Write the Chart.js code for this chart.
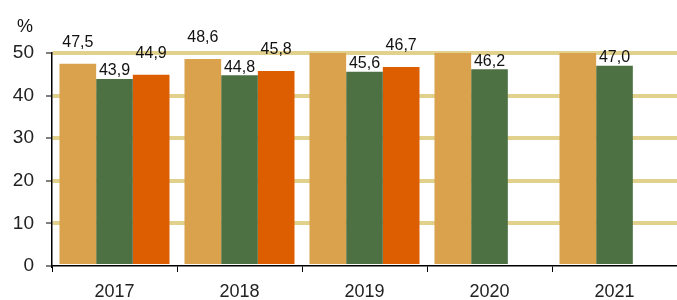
<!DOCTYPE html>
<html>
<head>
<meta charset="utf-8">
<script src="https://cdn.jsdelivr.net/npm/chart.js@4"></script>
<style>
    html, body { margin: 0; padding: 0; background: #fff; }
    #wrap { width: 677px; height: 300px; position: relative; }
</style>
</head>
<body>
<div id="wrap"><canvas id="chart"></canvas></div>
<script>
const years = ['2017', '2018', '2019', '2020', '2021'];
// tan bars for 2019-2021 run past the 50 line and are cut off there
const seriesA = [47.5, 48.6, 50.8, 51.2, 51.6];
const seriesB = [43.9, 44.8, 45.6, 46.2, 47.0];
const seriesC = [44.9, 45.8, 46.7, null, null];
const yTicks = [0, 10, 20, 30, 40, 50];

const FONT = "'Liberation Sans', Arial, sans-serif";

// draws value labels above the bars, with a comma as decimal mark
const valueLabels = {
    id: 'valueLabels',
    afterDatasetsDraw(chart) {
        const ctx = chart.ctx;
        const yMax = chart.scales.y.max;
        ctx.save();
        ctx.font = '16px ' + FONT;
        ctx.fillStyle = '#111';
        ctx.textAlign = 'center';
        ctx.textBaseline = 'bottom';
        chart.data.datasets.forEach((ds, i) => {
            const meta = chart.getDatasetMeta(i);
            meta.data.forEach((bar, j) => {
                const v = ds.data[j];
                if (v === null || v > yMax) return;
                ctx.fillText(v.toFixed(1).replace('.', ','), bar.x, bar.y - ds.labelOffset);
            });
        });
        // unit above the value axis
        ctx.font = '18px ' + FONT;
        ctx.textBaseline = 'middle';
        ctx.fillText('%', 25, 27);
        ctx.restore();
    }
};

const ctx = document.getElementById('chart').getContext('2d');
new Chart(ctx, {
    type: 'bar',
    data: {
        labels: years,
        datasets: [
            { data: seriesA, backgroundColor: 'rgb(218, 162, 76)', labelOffset: 13 },
            { data: seriesB, backgroundColor: 'rgb(78, 113, 68)', labelOffset: 0 },
            { data: seriesC, backgroundColor: 'rgb(221, 94, 0)', labelOffset: 13 }
        ]
    },
    options: {
        responsive: true,
        maintainAspectRatio: false,
        animation: false,
        layout: { padding: { top: 53, left: 0, right: 0, bottom: 0 } },
        datasets: {
            bar: { categoryPercentage: 0.88, barPercentage: 1.0, borderWidth: 0 }
        },
        scales: {
            x: {
                grid: {
                    offset: true,
                    drawOnChartArea: false,
                    color: '#000',
                    tickColor: '#000',
                    tickLength: 6,
                    tickWidth: 1
                },
                border: { color: '#000', width: 1.5 },
                ticks: {
                    color: '#222',
                    font: { family: FONT, size: 18 },
                    padding: 9
                },
                afterFit(scale) { scale.height = 34; }
            },
            y: {
                min: 0,
                max: 50,
                afterBuildTicks(scale) { scale.ticks = yTicks.map(v => ({ value: v })); },
                grid: {
                    color: c => c.tick && c.tick.value === 0 ? 'rgba(0,0,0,0)' : 'rgb(226, 209, 140)',
                    lineWidth: 4,
                    tickColor: '#000',
                    tickLength: 6,
                    tickWidth: 1
                },
                border: { color: '#000', width: 1.5 },
                ticks: {
                    color: '#222',
                    font: { family: FONT, size: 19 },
                    padding: 12
                },
                afterFit(scale) { scale.width = 52; }
            }
        },
        plugins: {
            legend: { display: false },
            tooltip: { enabled: false }
        }
    },
    plugins: [valueLabels]
});
</script>
</body>
</html>
